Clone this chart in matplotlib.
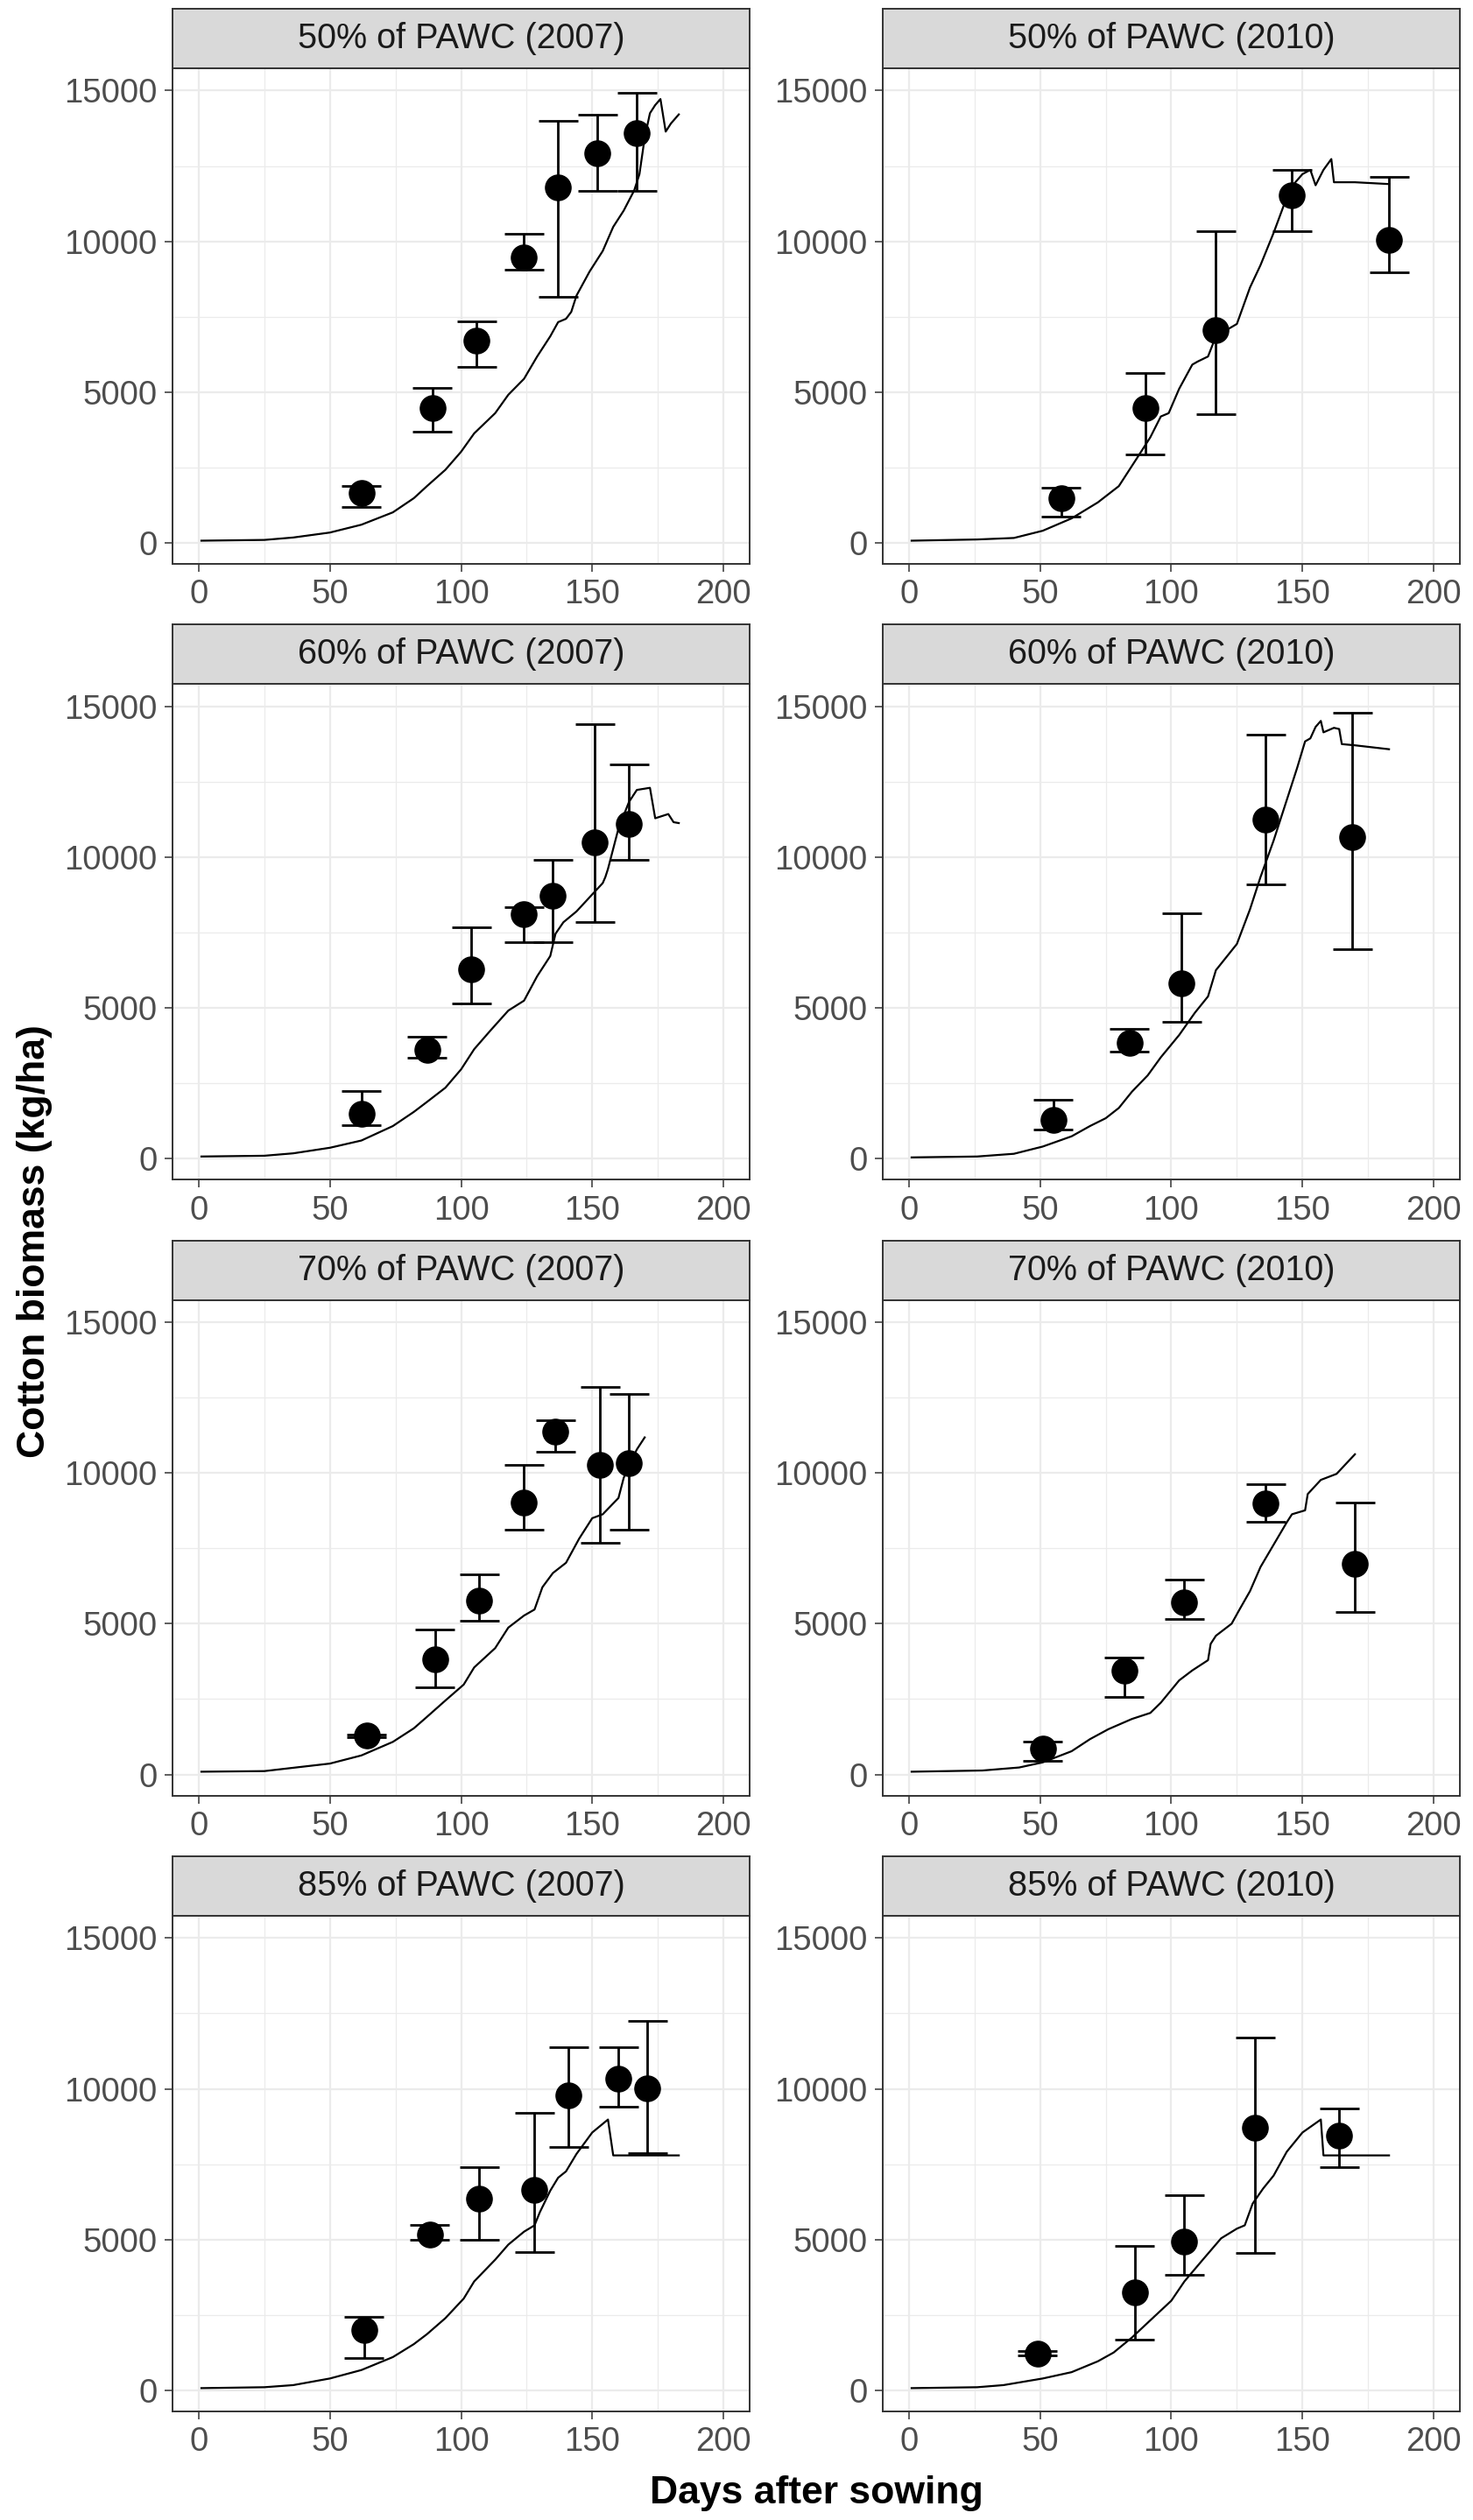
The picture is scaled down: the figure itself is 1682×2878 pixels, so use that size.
import matplotlib
matplotlib.use("Agg")
import matplotlib.pyplot as plt

plt.rcParams['font.family'] = ['Liberation Sans', 'DejaVu Sans']

# panel titles, row by row (left = 2007, right = 2010)
titles = ["50% of PAWC (2007)", "50% of PAWC (2010)",
          "60% of PAWC (2007)", "60% of PAWC (2010)",
          "70% of PAWC (2007)", "70% of PAWC (2010)",
          "85% of PAWC (2007)", "85% of PAWC (2010)"]

# observed biomass (mean, lower, upper) per panel
obs_x = [
    [62, 89, 106, 124, 137, 152, 167],
    [58, 90, 117, 146, 183],
    [62, 87, 104, 124, 135, 151, 164],
    [55, 84, 104, 136, 169],
    [64, 90, 107, 124, 136, 153, 164],
    [51, 82, 105, 136, 170],
    [63, 88, 107, 128, 141, 160, 171],
    [49, 86, 105, 132, 164],
]
obs_y = [
    [1640, 4480, 6720, 9480, 11790, 12930, 13580],
    [1480, 4480, 7060, 11530, 10050],
    [1500, 3600, 6280, 8100, 8710, 10480, 11090],
    [1280, 3830, 5820, 11260, 10660],
    [1280, 3820, 5770, 9030, 11380, 10270, 10340],
    [860, 3430, 5710, 8990, 6990],
    [1990, 5160, 6360, 6650, 9770, 10340, 10010],
    [1220, 3250, 4940, 8700, 8450],
]
obs_lo = [
    [1180, 3700, 5830, 9070, 8160, 11670, 11670],
    [870, 2930, 4270, 10350, 8980],
    [1120, 3360, 5150, 7190, 7190, 7860, 9910],
    [970, 3560, 4530, 9100, 6950],
    [1230, 2880, 5110, 8120, 10690, 7690, 8120],
    [460, 2580, 5160, 8390, 5380],
    [1070, 5000, 5000, 4590, 8080, 9410, 7870],
    [1160, 1680, 3830, 4540, 7410],
]
obs_hi = [
    [1880, 5130, 7350, 10260, 13990, 14210, 14920],
    [1820, 5620, 10350, 12370, 12140],
    [2250, 4030, 7660, 8330, 9910, 14410, 13070],
    [1950, 4300, 8130, 14070, 14790],
    [1330, 4800, 6640, 10270, 11760, 12840, 12620],
    [1080, 3880, 6450, 9640, 9010],
    [2420, 5470, 7410, 9200, 11380, 11380, 12250],
    [1290, 4800, 6480, 11700, 9340],
]

# simulated biomass curves
sim_day = [
    [1, 25, 36, 50, 62, 74, 82, 87, 94, 100, 105, 113, 118, 124, 129, 134, 137, 140, 142, 144,
     149, 154, 158, 162, 166, 168, 170, 172, 174, 176, 178, 180, 183],
    [1, 26, 40, 51, 62, 72, 80, 87, 92, 96, 99, 103, 108, 110, 114, 117, 125, 130, 134, 139,
     143, 146, 150, 153, 155, 158, 161, 162, 170, 183],
    [1, 25, 36, 50, 62, 74, 82, 87, 94, 100, 105, 111, 118, 124, 129, 134, 136, 139, 144, 149,
     154, 155, 156, 160, 164, 167, 172, 174, 179, 181, 183],
    [1, 26, 40, 51, 62, 69, 75, 80, 85, 91, 96, 103, 109, 114, 117, 125, 130, 134, 139, 145,
     148, 151, 153, 155, 157, 158, 162, 164, 165, 170, 183],
    [1, 25, 50, 62, 74, 82, 87, 94, 101, 105, 113, 118, 124, 128, 131, 135, 140, 145, 150, 154,
     160, 162, 164, 167, 170],
    [1, 28, 42, 51, 62, 69, 76, 85, 92, 96, 103, 108, 114, 115, 117, 123, 126, 130, 134, 139,
     144, 146, 151, 152, 157, 163, 170],
    [1, 25, 36, 50, 62, 74, 82, 87, 94, 101, 105, 113, 118, 124, 128, 130, 134, 137, 140, 144,
     150, 156, 158, 183],
    [1, 26, 36, 51, 62, 72, 78, 85, 92, 100, 105, 112, 119, 125, 128, 131, 135, 139, 144, 150,
     157, 158, 183],
]
sim_val = [
    [70, 95, 175, 340, 600, 1010, 1480, 1880, 2420, 3020, 3630, 4300, 4910, 5440, 6180, 6850, 7320, 7430, 7660, 8200,
     9000, 9680, 10480, 11020, 11690, 12230, 13440, 14250, 14520, 14720, 13640, 13910, 14210],
    [70, 110, 160, 400, 810, 1340, 1880, 2820, 3500, 4190, 4300, 5110, 5910, 6010, 6180, 6850, 7260, 8470, 9210, 10280,
     11220, 11830, 12230, 12370, 11860, 12370, 12730, 11960, 11960, 11900],
    [70, 95, 175, 360, 600, 1080, 1550, 1880, 2350, 2960, 3630, 4230, 4910, 5240, 6050, 6720, 7460, 7840, 8200, 8670,
     9140, 9340, 9610, 10950, 11830, 12230, 12300, 11290, 11430, 11160, 11130],
    [40, 70, 160, 400, 740, 1080, 1340, 1680, 2220, 2760, 3360, 4100, 4840, 5380, 6250, 7120, 8270, 9340, 10550, 12160,
     12970, 13840, 13940, 14320, 14520, 14140, 14290, 14250, 13750, 13710, 13580],
    [90, 110, 360, 630, 1080, 1530, 1910, 2450, 2980, 3550, 4190, 4870, 5270, 5470, 6210, 6680, 7020, 7820, 8500, 8630,
     9170, 9840, 10240, 10780, 11180],
    [90, 130, 230, 400, 770, 1170, 1500, 1840, 2040, 2380, 3120, 3450, 3790, 4330, 4600, 5000, 5470, 6080, 6880, 7620,
     8360, 8630, 8760, 9300, 9770, 9970, 10620],
    [70, 100, 170, 390, 670, 1100, 1530, 1860, 2390, 3040, 3610, 4330, 4830, 5260, 5470, 5900, 6620, 7050, 7260, 7840,
     8550, 8980, 7790, 7790],
    [70, 100, 170, 390, 600, 960, 1250, 1750, 2320, 2970, 3610, 4330, 5040, 5360, 5470, 6190, 6690, 7120, 7910, 8550,
     8980, 7790, 7790],
]

x_ticks = [0, 50, 100, 150, 200]
y_ticks = [0, 5000, 10000, 15000]

W, H = 1682, 2878
fig = plt.figure(figsize=(W / 100, H / 100), dpi=100)

col_left = [197, 1008]
panel_w = 659
strip_h = 68
panel_h = 566
row_step = 703.3

def px_axes(x, y, w, h):
    # pixel box (from top left) -> figure axes
    return fig.add_axes([x / W, 1 - (y + h) / H, w / W, h / H])

for i in range(8):
    r, c = divmod(i, 2)
    top = 10 + row_step * r
    x0 = col_left[c]

    # strip
    sa = px_axes(x0, top, panel_w, strip_h)
    sa.set_facecolor('#D9D9D9')
    sa.set_xticks([])
    sa.set_yticks([])
    for s in sa.spines.values():
        s.set_color('#333333')
        s.set_linewidth(1.4)
    sa.text(0.5, 0.5, titles[i], ha='center', va='center', fontsize=28.5,
            color='#1A1A1A', transform=sa.transAxes)

    ax = px_axes(x0, top + strip_h, panel_w, panel_h)
    ax.set_xlim(-10, 210)
    ax.set_ylim(-700, 15740)
    ax.set_xticks(x_ticks)
    ax.set_yticks(y_ticks)
    ax.set_xticks([25, 75, 125, 175], minor=True)
    ax.set_yticks([2500, 7500, 12500], minor=True)
    ax.grid(which='major', color='#EBEBEB', lw=1.6)
    ax.grid(which='minor', color='#EBEBEB', lw=0.9)
    ax.set_axisbelow(True)
    ax.tick_params(which='major', length=6.5, width=1.1, color='#333333',
                   labelsize=27.5, labelcolor='#4D4D4D', pad=6)
    ax.tick_params(which='minor', length=0)
    for s in ax.spines.values():
        s.set_color('#333333')
        s.set_linewidth(1.4)

    ax.plot(sim_day[i], sim_val[i], color='black', lw=1.6, zorder=3)
    ax.vlines(obs_x[i], obs_lo[i], obs_hi[i], color='black', lw=2.0, zorder=4)
    xs = obs_x[i]
    ax.hlines(obs_lo[i], [x - 7.5 for x in xs], [x + 7.5 for x in xs], color='black', lw=2.0, zorder=4)
    ax.hlines(obs_hi[i], [x - 7.5 for x in xs], [x + 7.5 for x in xs], color='black', lw=2.0, zorder=4)
    ax.plot(xs, obs_y[i], 'o', color='black', ms=21, zorder=5)

fig.text(40 / W, 1 - 1418 / H, "Cotton biomass (kg/ha)", rotation=90, ha='center', va='center',
         fontsize=32, fontweight='bold')
fig.text(932 / W, 1 - 2848 / H, "Days after sowing", ha='center', va='center',
         fontsize=32, fontweight='bold')

fig.savefig("out.png", dpi=100, facecolor='white')
